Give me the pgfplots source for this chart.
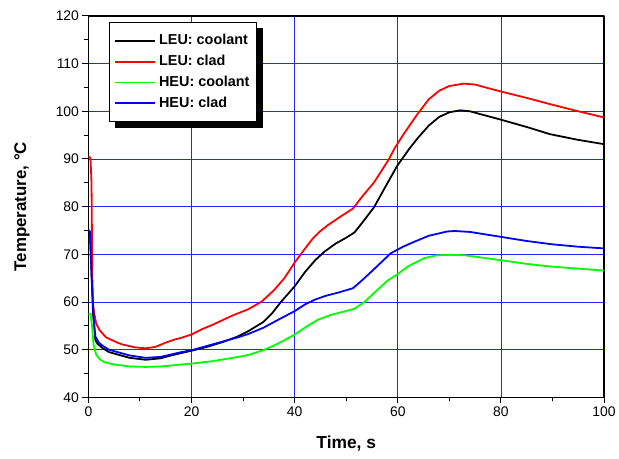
\documentclass[border=0pt]{standalone}
\usepackage{fontspec}
\setmainfont{Liberation Sans}
\usepackage{pgfplots}
\pgfplotsset{compat=1.18}

\begin{document}
\begin{tikzpicture}
\begin{axis}[
    at={(0,0)}, anchor=south west,
    scale only axis,
    width=519bp, height=384bp,
    xmin=0, xmax=100, ymin=40, ymax=120,
    xtick={0,20,...,100}, ytick={40,50,...,120},
    minor x tick num=1, minor y tick num=1,
    tick pos=left, tick align=outside,
    major tick length=6bp, minor tick length=4bp,
    every tick/.style={black, line width=1bp},
    axis line style={line width=1.3bp},
    grid=major,
    major grid style={blue!85, line width=0.9bp},
    /pgf/number format/assume math mode=true,
    tick label style={font=\fontsize{14bp}{14bp}\selectfont},
    xlabel={\textbf{Time, s}},
    ylabel={\textbf{Temperature, °C}},
    xlabel style={font=\fontsize{17.5bp}{17.5bp}\selectfont, at={(axis description cs:0.5,-0.12)}, anchor=center},
    ylabel style={font=\fontsize{17bp}{17bp}\selectfont, at={(axis description cs:-0.129,0.5)}, anchor=center},
    legend style={name=leg, at={(axis description cs:0.0405,0.9836)}, anchor=north west,
        draw=black, line width=1bp, fill=white,
        font=\bfseries\fontsize{14.5bp}{14.5bp}\selectfont,
        nodes={text height=10.5bp, text depth=3bp, inner sep=2bp},
        row sep=3.5bp, column sep=1bp, inner xsep=4.8bp, inner ysep=9.5bp},
    legend cell align=left,
    legend image code/.code={\draw[#1, line width=1.8bp] (0bp,0bp) -- (40bp,0bp);},
    line join=round,
]
\addplot[black, line width=1.8bp] coordinates {
(0,75) (0.3,74.5) (0.6,66) (0.9,57.5) (1.35,52) (1.8,51.2) (2.8,50.3) (4,49.5) (6,48.9) (8,48.3) (11.1,47.9) (14,48.2) (16,48.8) (18,49.3) (20,49.8) (23,50.6) (26,51.6) (29,52.8) (31,53.9) (33.9,55.8) (35.5,57.5) (37.4,60.1) (40,63.3) (42,66.3) (44,68.8) (45.8,70.6) (48,72.3) (50,73.5) (51.6,74.6) (53,76.5) (55.4,79.9) (57.5,84) (59.9,88.6) (62.2,92.1) (63.8,94.3) (66,97) (68,98.8) (70,99.8) (72.1,100.2) (74,100) (76,99.4) (79.8,98.3) (85,96.7) (89.5,95.2) (95,94) (100,93.1)
};
\addlegendentry{LEU: coolant}
\addplot[red, line width=1.8bp] coordinates {
(0,90.5) (0.4,90.2) (0.6,85) (0.75,65) (0.9,59.5) (1.1,57.8) (1.5,55.5) (2.1,54.2) (3.4,52.6) (5.6,51.5) (6.6,51.1) (9,50.5) (11.1,50.3) (13,50.6) (15,51.5) (16.6,52.1) (18,52.5) (20,53.2) (22,54.3) (24,55.2) (26.2,56.3) (28,57.2) (31,58.5) (33.6,60.1) (36,62.5) (38,65) (40,68.3) (42,71.2) (43.5,73.3) (45,74.9) (46.4,76.1) (49,78) (51.3,79.6) (53,82) (55.4,85.1) (58.3,90) (59.3,92.1) (61,95) (63.8,99.4) (66,102.5) (68,104.3) (70,105.3) (72.8,105.8) (75,105.6) (77,105) (79.8,104.2) (85,102.8) (89.5,101.5) (95,100) (100,98.7)
};
\addlegendentry{LEU: clad}
\addplot[green, line width=1.8bp] coordinates {
(0,57.4) (0.4,57.5) (0.7,55) (1.0,51) (1.5,49) (2.2,48) (3.1,47.4) (5,46.9) (8,46.5) (11.1,46.4) (14,46.5) (17,46.8) (20,47.1) (24,47.6) (28,48.3) (31,48.9) (33.9,49.9) (36,50.9) (38,52) (40,53.2) (42.5,55) (44.5,56.3) (47,57.3) (49.5,58) (51.6,58.6) (53.5,60) (56,62.5) (58,64.5) (59.9,65.8) (62,67.5) (65.1,69.2) (67.5,69.8) (70.2,69.9) (73,69.8) (79.8,68.8) (85,68) (90,67.4) (95,67) (100,66.6)
};
\addlegendentry{HEU: coolant}
\addplot[blue, line width=1.8bp] coordinates {
(0,75.1) (0.3,74.8) (0.6,66) (0.9,59) (1.1,55.5) (1.35,52.8) (2,51.5) (2.8,50.8) (4,50) (6,49.4) (8,48.8) (11.1,48.3) (14,48.5) (16,49.0) (18,49.5) (20,49.9) (23,50.8) (26,51.7) (29,52.6) (31,53.3) (33.9,54.6) (37,56.4) (40,58.1) (42,59.5) (43.9,60.5) (46,61.3) (48.5,62) (51.3,62.9) (53,64.5) (55,66.5) (58.6,70.2) (61,71.6) (63.1,72.6) (66,73.9) (69.6,74.8) (71,74.9) (74,74.7) (79.8,73.7) (85,72.8) (90,72.1) (95,71.6) (100,71.25)
};
\addlegendentry{HEU: clad}
\end{axis}
% legend shadow, right and bottom strips
\fill[black] ([yshift=-6bp]leg.north east) rectangle ([xshift=6bp,yshift=-6bp]leg.south east);
\fill[black] ([xshift=6bp]leg.south west) rectangle ([xshift=6bp,yshift=-6bp]leg.south east);
\path (-89bp,-61bp) rectangle (530bp,400bp);
\end{tikzpicture}
\end{document}
